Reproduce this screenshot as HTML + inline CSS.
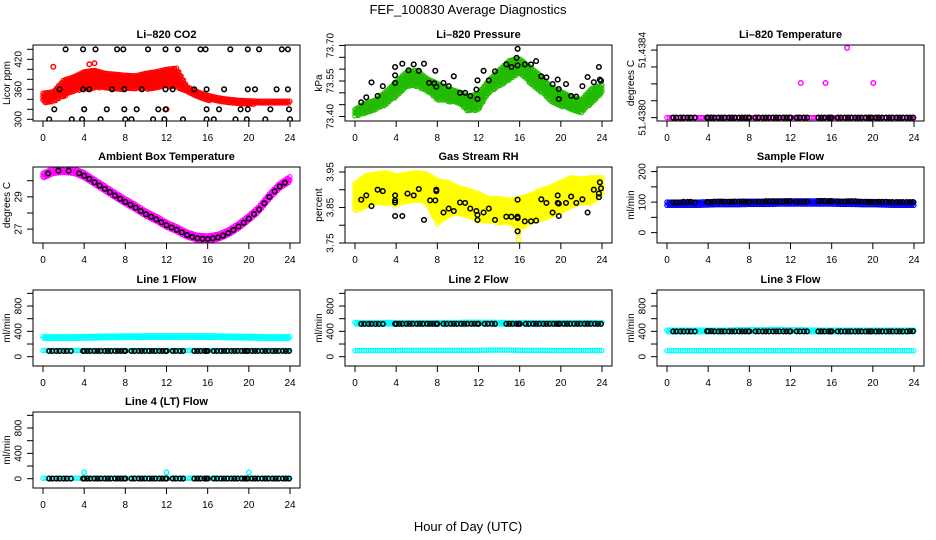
<!DOCTYPE html>
<html><head><meta charset="utf-8"><title>FEF_100830 Average Diagnostics</title>
<style>
html,body{margin:0;padding:0;background:#fff;}
svg{display:block;font-family:"Liberation Sans",Arial,sans-serif;}
</style></head>
<body>
<svg id="chart" width="936" height="540" viewBox="0 0 936 540" xmlns="http://www.w3.org/2000/svg">
<rect x="0" y="0" width="936" height="540" fill="#fff"/>
<text x="468" y="14" font-size="13" text-anchor="middle">FEF_100830  Average Diagnostics</text>
<text x="468" y="531" font-size="13" text-anchor="middle">Hour of Day (UTC)</text>
</svg>
<script>
// ---------- data ----------
const xTicks = [0,4,8,12,16,20,24];
const bandHours = [0,1,2,3,4,5,6,7,8,9,10,11,12,13,14,15,16,17,18,19,20,21,22,23,24];
const blackHours = [0.6,0.9,1.3,1.6,2.0,2.3,2.7,3.9,4.0,4.3,4.6,5.0,5.3,5.6,6.0,6.3,6.6,7.0,7.3,7.6,7.9,8.0,8.6,8.9,9.3,9.6,9.9,10.3,10.6,10.9,11.3,11.6,11.9,12.0,12.6,12.9,13.3,13.6,14.7,15.0,15.3,15.7,15.9,16.0,16.6,16.9,17.3,17.6,17.9,18.3,18.6,18.9,19.3,19.6,19.8,19.9,20.3,20.6,20.9,21.3,21.6,21.9,22.3,22.6,22.9,23.3,23.6,23.9];

// Li-820 CO2
const co2Lo = [333,335,345,355,360,362,362,360,360,360,360,362,365,365,352,345,338,335,332,331,330,330,330,330,330];
const co2Hi = [352,355,378,385,395,398,392,390,388,387,392,395,400,402,365,355,348,343,340,338,337,336,336,336,336];
const co2RedOutH = [4.0,12.0,1.0,4.5,5.0];
const co2RedOutV = [320,320,405,410,412];
const co2BlackH = [2.2,3.9,5.1,7.2,7.8,10.2,11.9,13.1,15.3,15.8,18.2,19.9,21.0,23.2,23.8, 1.6,3.9,4.5,6.7,7.9,9.6,11.9,12.6,14.7,15.9,17.6,19.9,20.6,22.7,23.8, 1.1,4.0,6.2,7.9,9.1,11.2,11.9,15.9,17.1,19.2,19.9,22.1,23.9, 0.6,2.8,3.8,5.6,8.0,8.6,10.7,11.8,13.6,15.9,16.6,18.7,19.8,21.6,24.0];
const co2BlackV = [440,440,440,440,440,440,440,440,440,440,440,440,440,440,440, 360,360,360,360,360,360,360,360,360,360,360,360,360,360,360, 320,320,320,320,320,320,320,320,320,320,320,320,320, 300,300,300,300,300,300,300,300,300,300,300,300,300,300,300];

// Li-820 Pressure
const presLo = [73.40,73.414,73.428,73.449,73.484,73.526,73.526,73.505,73.47,73.463,73.456,73.421,73.428,73.498,73.526,73.553,73.581,73.54,73.505,73.463,73.442,73.428,73.414,73.456,73.498];
const presHi = [73.43,73.456,73.47,73.505,73.546,73.588,73.595,73.56,73.54,73.519,73.505,73.484,73.498,73.553,73.595,73.637,73.644,73.609,73.574,73.526,73.505,73.484,73.47,73.519,73.533];
const presBlackH = [0.6,1.1,1.6,2.2,2.7,3.9,3.9,3.9,4.6,5.2,5.7,6.2,6.7,7.2,7.7,7.8,7.9,8.6,9.1,9.6,10.2,10.7,11.2,11.8,11.9,11.9,12.5,13.0,13.6,14.7,15.2,15.8,15.7,15.8,16.5,17.1,17.6,18.1,18.6,19.2,19.7,19.8,19.8,20.5,21.0,21.5,22.1,22.6,23.2,23.7,23.8,23.9];
const presBlackV = [73.460,73.481,73.544,73.487,73.528,73.609,73.574,73.542,73.623,73.595,73.620,73.593,73.623,73.542,73.540,73.593,73.526,73.542,73.528,73.570,73.500,73.500,73.487,73.514,73.474,73.553,73.593,73.553,73.591,73.620,73.609,73.686,73.648,73.616,73.620,73.620,73.634,73.570,73.565,73.537,73.556,73.516,73.474,73.537,73.487,73.484,73.528,73.567,73.545,73.609,73.556,73.551];

// Li-820 Temperature
const ltBase = [51.4380,51.4380,51.4380,51.4380,51.4380,51.4380,51.4380,51.4380,51.4380,51.4380,51.4380,51.4380,51.4380,51.4380,51.4380,51.4380,51.4380,51.4380,51.4380,51.4380,51.4380,51.4380,51.4380,51.4380,51.4380];
const ltOutH = [13.0,15.4,17.5,20.05];
const ltOutV = [51.438205,51.438205,51.438413,51.438205];
const ltBlackHourly = [51.4380,51.4380,51.4380,51.4380,51.4380,51.4380,51.4380,51.4380,51.4380,51.4380,51.4380,51.4380,51.4380,51.4380,51.4380,51.4380,51.4380,51.4380,51.4380,51.4380,51.4380,51.4380,51.4380,51.4380,51.4380];

// Ambient Box Temperature
const ambVals = [30.27,30.57,30.63,30.57,30.31,29.9,29.49,29.08,28.69,28.33,27.92,27.61,27.24,26.96,26.63,26.43,26.39,26.49,26.76,27.16,27.65,28.22,29.0,29.65,30.06];
const ambHalfH = [0.5,1.5,2.5,3.5,4.5,5.5,6.5,7.5,8.5,9.5,10.5,11.5,12.5,13.5,14.5,15.5,16.5,17.5,18.5,19.5,20.5,21.5,22.5,23.5];
const ambHalfV = [30.45,30.62,30.62,30.46,30.12,29.7,29.29,28.88,28.51,28.12,27.77,27.42,27.1,26.8,26.52,26.4,26.43,26.6,26.95,27.4,27.93,28.6,29.35,29.88];

// Gas Stream RH
const rhLo = [3.838,3.852,3.861,3.861,3.857,3.866,3.87,3.861,3.806,3.824,3.834,3.824,3.811,3.811,3.806,3.806,3.788,3.806,3.815,3.824,3.838,3.852,3.861,3.861,3.889];
const rhHi = [3.916,3.939,3.944,3.948,3.939,3.944,3.948,3.944,3.925,3.921,3.907,3.898,3.889,3.875,3.875,3.87,3.875,3.884,3.898,3.907,3.921,3.934,3.930,3.934,3.934];
const rhYelOutH = [15.9,15.9,8.0];
const rhYelOutV = [3.776,3.760,3.805];
const rhBlackH = [0.6,1.1,1.6,2.2,2.7,3.9,3.9,3.9,3.9,4.6,5.1,5.7,6.2,6.7,7.3,7.8,7.9,7.9,8.6,9.1,9.6,10.2,10.7,11.2,11.8,11.9,11.9,12.5,13.0,13.6,14.7,15.2,15.8,15.8,15.8,15.8,16.5,17.1,17.6,18.1,18.6,19.2,19.7,19.7,19.8,19.8,20.5,21.0,21.5,22.1,22.6,23.2,23.7,23.7,23.8,23.9];
const rhBlackV = [3.872,3.884,3.854,3.900,3.896,3.870,3.864,3.884,3.826,3.826,3.889,3.884,3.902,3.815,3.870,3.870,3.896,3.900,3.836,3.847,3.840,3.864,3.863,3.847,3.840,3.829,3.815,3.836,3.847,3.815,3.824,3.824,3.824,3.820,3.872,3.783,3.811,3.811,3.813,3.873,3.863,3.836,3.884,3.863,3.861,3.826,3.863,3.881,3.863,3.873,3.836,3.900,3.889,3.879,3.921,3.904];

// Sample Flow
const sfLo = [88,88,88,88,89,89,89,90,90,90,90,91,91,92,92,92,92,91,91,90,90,89,89,88,88];
const sfHi = [100,100,100,100,101,102,102,102,103,103,103,104,104,104,104,104,104,103,103,102,102,101,100,100,100];
const sfBlackHourly = [98,99,101,99,100,102,101,102,100,101,103,102,103,101,102,104,103,102,103,101,100,101,100,100,100];

// Line flows
const l1HiLo = [285,285,285,285,285,288,290,292,292,292,292,292,292,292,292,292,292,290,290,288,286,285,285,285,285];
const l1HiHi = [315,315,315,315,318,320,325,325,328,328,330,330,330,330,330,330,330,328,325,322,320,318,315,315,315];
const l1LoLo = [82,82,82,82,82,82,82,82,82,82,82,82,82,82,82,82,82,82,82,82,82,82,82,82,82];
const l1LoHi = [98,98,98,98,98,98,98,98,98,98,98,98,98,98,98,98,98,98,98,98,98,98,98,98,98];
const l1Black = [90,90,90,90,90,90,90,90,90,90,90,90,90,90,90,90,90,90,90,90,90,90,90,90,90];
const l2HiLo = [505,505,505,505,505,505,505,505,505,505,505,505,505,505,505,505,505,505,505,505,505,505,505,505,505];
const l2HiHi = [540,540,540,540,540,540,540,540,540,540,540,545,545,545,540,540,540,540,540,540,540,540,540,540,540];
const l2LoLo = [82,82,82,82,82,82,82,82,82,82,82,82,82,82,82,82,82,82,82,82,82,82,82,82,82];
const l2LoHi = [98,98,98,98,98,100,100,100,100,100,100,100,100,104,104,104,100,100,100,98,98,98,98,98,98];
const l2Black = [518,518,518,518,520,520,520,520,520,520,520,520,520,520,520,520,520,520,520,520,520,520,520,520,518];
const l3HiLo = [385,385,385,385,385,385,385,385,385,385,385,385,385,385,385,385,385,385,385,385,385,385,385,385,385];
const l3HiHi = [420,420,420,420,420,420,420,425,425,425,430,430,425,425,420,420,420,420,420,420,420,420,420,420,420];
const l3LoLo = [72,72,72,72,75,75,78,78,78,78,78,78,78,78,78,78,78,78,78,78,78,76,72,72,72];
const l3LoHi = [95,95,95,95,95,95,95,95,95,95,95,95,95,95,95,95,95,95,95,95,95,95,95,95,95];
const l3Black = [400,400,400,400,402,400,400,400,400,400,400,400,400,400,400,400,400,400,400,400,400,400,400,400,402];
const l4Lo = [0,0,0,0,0,0,0,0,0,0,0,0,0,0,0,0,0,0,0,0,0,0,0,0,0];
const l4Hi = [8,8,8,8,8,8,8,8,8,8,8,8,8,8,8,8,8,8,8,8,8,8,8,8,8];
const l4OutH = [4.0,12.0,20.0];
const l4OutV = [100,100,100];
const l4Black = [2,2,2,2,2,2,2,2,2,2,2,2,2,2,2,2,2,2,2,2,2,2,2,2,2];

// ---------- drawing ----------
const svg = document.getElementById('chart');
const NS = 'http://www.w3.org/2000/svg';
function el(tag, attrs, parent){
  const e = document.createElementNS(NS, tag);
  for (const k in attrs) e.setAttribute(k, attrs[k]);
  (parent || svg).appendChild(e);
  return e;
}
const COLX = [43,355,667], ROWY = [45,167,290,412], SPAN = 247, H = 76;

function makePanel(name, col, row, dmin, dmax, title, ytitle, yTicks, yLabels){
  const L = COLX[col], T = ROWY[row], B = T + H;
  const g = el('g', {});
  
  
  const p = {
    g, L, T, B,
    x: h => L + h * SPAN / 24,
    y: v => B - (v - dmin) / (dmax - dmin) * H
  };
  const marks = el('g', {}, g);
  
  
  p.marks = marks;
  const cid = 'clip-' + name;
  const cp = el('clipPath', {id: cid}, g);
  el('rect', {x: L-10, y: T, width: SPAN+20, height: H}, cp);
  marks.setAttribute('clip-path', 'url(#' + cid + ')');
  const box = el('rect', {x: L-10, y: T, width: SPAN+20, height: H, fill: 'none', stroke: '#000', 'stroke-width': 1}, g);
  
  
  const t = el('text', {x: L + SPAN/2, y: T - 7, 'font-size': 11, 'font-weight': 'bold', 'text-anchor': 'middle'}, g);
  t.textContent = title;
  
  
  const xa = el('g', {}, g);
  
  
  xTicks.forEach(v => {
    const xx = p.x(v);
    el('line', {x1: xx, x2: xx, y1: B, y2: B + 6, stroke: '#000'}, xa);
    const tl = el('text', {x: xx, y: B + 20, 'font-size': 10, 'text-anchor': 'middle'}, xa);
    tl.textContent = String(v);
    
    
  });
  const ya = el('g', {}, g);
  
  
  el('line', {x1: L-10, x2: L-10, y1: p.y(yTicks[0]), y2: p.y(yTicks[yTicks.length-1]), stroke: '#000'}, ya);
  yTicks.forEach(v => {
    const yy = p.y(v);
    el('line', {x1: L-10, x2: L-16, y1: yy, y2: yy, stroke: '#000'}, ya);
  });
  yLabels.forEach(lab => {
    const yy = p.y(parseFloat(lab));
    const tx = L - 21.5;
    const tl = el('text', {x: tx, y: yy, 'font-size': 10, 'text-anchor': 'middle', transform: 'rotate(-90 ' + tx + ' ' + yy + ')'}, ya);
    tl.textContent = lab;
    
    
  });
  const tx = L - 33, ty = T + H/2;
  const yt = el('text', {x: tx, y: ty, 'font-size': 10, 'text-anchor': 'middle', transform: 'rotate(-90 ' + tx + ' ' + ty + ')'}, g);
  yt.textContent = ytitle;
  
  
  return p;
}

function pt(p, h, v, color, sw){
  return el('circle', {cx: p.x(h).toFixed(1), cy: p.y(v).toFixed(1), r: 2.3, fill: 'none', stroke: color, 'stroke-width': sw || 1.3}, p.marks);
}
function band(p, hours, lo, hi, color, minPx){
  const grp = el('g', {}, p.marks);
  
  
  let k = 0;
  for (let t = hours[0]; t <= hours[hours.length-1] + 1e-9; t += 0.11) {
    let i = 0;
    while (i < hours.length - 2 && t > hours[i+1]) i++;
    const f = (t - hours[i]) / (hours[i+1] - hours[i]);
    const l = lo[i] + (lo[i+1]-lo[i]) * f, h = hi[i] + (hi[i+1]-hi[i]) * f;
    let y1 = p.y(h), y2 = p.y(l);
    if (minPx && y2 - y1 < minPx) { const m = (y1+y2)/2; y1 = m - minPx/2; y2 = m + minPx/2; }
    const off = (k++ % 2) * 1.6;
    for (let yy = y1 + off; yy <= y2 + 0.01; yy += 3.2) {
      el('circle', {cx: p.x(t).toFixed(1), cy: yy.toFixed(1), r: 2.2, fill: 'none', stroke: color, 'stroke-width': 1.1}, grp);
    }
  }
}
function blackLookup(p, hourly){
  const grp = el('g', {}, p.marks);
  
  
  blackHours.forEach(h => {
    const c = el('circle', {cx: p.x(h).toFixed(1), cy: p.y(hourly[Math.round(h)]).toFixed(1), r: 2.3, fill: 'none', stroke: '#000', 'stroke-width': 1.5}, grp);
    
  });
}
function blackXY(p, hs, vs){
  const grp = el('g', {}, p.marks);
  
  
  hs.forEach((h, i) => {
    const c = el('circle', {cx: p.x(h).toFixed(1), cy: p.y(vs[i]).toFixed(1), r: 2.3, fill: 'none', stroke: '#000', 'stroke-width': 1.5}, grp);
    
  });
}
function colorXY(p, hs, vs, color){
  hs.forEach((h, i) => {
    const c = pt(p, h, vs[i], color, 1.4);
    
  });
}

const flowTicks = [0,200,400,600,800,1000], flowLabels = ['0','400','800'];

let p = makePanel('co2', 0, 0, 296.6, 448.6, 'Li\u2013820 CO2', 'Licor ppm', [300,320,340,360,380,400,420,440], ['300','360','420']);
band(p, bandHours, co2Lo, co2Hi, '#ff0000');
colorXY(p, co2RedOutH, co2RedOutV, '#ff0000');
blackXY(p, co2BlackH, co2BlackV);

p = makePanel('pressure', 1, 0, 73.381, 73.702, 'Li\u2013820 Pressure', 'kPa', [73.40,73.45,73.50,73.55,73.60,73.65,73.70], ['73.40','73.55','73.70']);
band(p, bandHours, presLo, presHi, '#22bb00');
blackXY(p, presBlackH, presBlackV);

p = makePanel('li820-temperature', 2, 0, 51.43798, 51.43843, 'Li\u2013820 Temperature', 'degrees C', [51.4380,51.4381,51.4382,51.4383,51.4384], ['51.4380','51.4384']);
band(p, bandHours, ltBase, ltBase, '#ff00ff');
colorXY(p, ltOutH, ltOutV, '#ff00ff');
blackLookup(p, ltBlackHourly);

p = makePanel('ambient-temperature', 0, 1, 26.14, 30.85, 'Ambient Box Temperature', 'degrees C', [27,28,29,30], ['27','29']);
band(p, bandHours, ambVals, ambVals, '#ff00ff', 6);
blackXY(p, ambHalfH, ambHalfV);
blackXY(p, bandHours.slice(4, 24), ambVals.slice(4, 24));

p = makePanel('gas-stream-rh', 1, 1, 3.75, 3.964, 'Gas Stream RH', 'percent', [3.75,3.80,3.85,3.90,3.95], ['3.75','3.85','3.95']);
band(p, bandHours, rhLo, rhHi, '#ffff00');
colorXY(p, rhYelOutH, rhYelOutV, '#ffff00');
blackXY(p, rhBlackH, rhBlackV);

p = makePanel('sample-flow', 2, 1, -34, 215, 'Sample Flow', 'ml/min', [0,50,100,150,200], ['0','100','200']);
band(p, bandHours, sfLo, sfHi, '#0000ff');
blackLookup(p, sfBlackHourly);

p = makePanel('line1-flow', 0, 2, -147, 1053, 'Line 1 Flow', 'ml/min', flowTicks, flowLabels);
band(p, bandHours, l1HiLo, l1HiHi, '#00ffff');
band(p, bandHours, l1LoLo, l1LoHi, '#00ffff');
blackLookup(p, l1Black);

p = makePanel('line2-flow', 1, 2, -147, 1053, 'Line 2 Flow', 'ml/min', flowTicks, flowLabels);
band(p, bandHours, l2HiLo, l2HiHi, '#00ffff');
band(p, bandHours, l2LoLo, l2LoHi, '#00ffff');
blackLookup(p, l2Black);

p = makePanel('line3-flow', 2, 2, -147, 1053, 'Line 3 Flow', 'ml/min', flowTicks, flowLabels);
band(p, bandHours, l3HiLo, l3HiHi, '#00ffff');
band(p, bandHours, l3LoLo, l3LoHi, '#00ffff');
blackLookup(p, l3Black);

p = makePanel('line4-flow', 0, 3, -147, 1053, 'Line 4 (LT) Flow', 'ml/min', flowTicks, flowLabels);
band(p, bandHours, l4Lo, l4Hi, '#00ffff');
colorXY(p, l4OutH, l4OutV, '#00ffff');
blackLookup(p, l4Black);
</script>
</body></html>
